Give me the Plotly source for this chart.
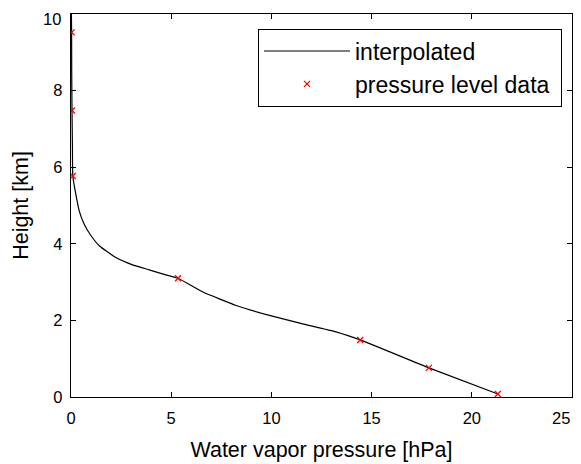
import plotly.graph_objects as go

# %% data
# pressure level data (markers)
level_pressure = [21.3, 17.86, 14.43, 5.34, 0.09, 0.05, 0.03]   # hPa
level_height = [0.08, 0.76, 1.49, 3.10, 5.77, 7.48, 9.52]       # km

# interpolated profile (line)
interp_pressure = [21.3, 17.86, 14.43, 13.22, 11.56, 9.90, 8.24, 6.58, 5.34,
                   4.73, 3.90, 3.07, 2.24, 1.41, 1.00, 0.66, 0.41, 0.21,
                   0.09, 0.07, 0.05, 0.035, 0.03, 0.02]
interp_height = [0.08, 0.76, 1.49, 1.70, 1.91, 2.13, 2.39, 2.74, 3.10,
                 3.19, 3.32, 3.45, 3.64, 3.95, 4.21, 4.51, 4.86, 5.38,
                 5.77, 6.60, 7.48, 8.50, 9.52, 10.0]

x_ticks = [0, 5, 10, 15, 20, 25]
x_tick_labels = ["0", "5", "10", "15", "20", "25"]
y_ticks = [0, 2, 4, 6, 8, 10]
y_tick_labels = ["0", "2", "4", "6", "8", "10"]

font_family = "Liberation Sans, Arial, Helvetica, sans-serif"
tick_size = 16.5

# %% figure
fig = go.Figure()

fig.add_trace(go.Scatter(x=interp_pressure, y=interp_height, mode="lines",
                         name="interpolated",
                         line=dict(color="black", width=1.2, shape="spline", smoothing=0.4)))

fig.add_trace(go.Scatter(x=level_pressure, y=level_height, mode="markers",
                         name="pressure level data\u00a0",
                         marker=dict(symbol="x-thin", size=6, color="red",
                                     line=dict(color="red", width=1.3))))

axis_common = dict(showgrid=False, zeroline=False, showline=True, automargin=False,
                   linecolor="black", linewidth=1.3, mirror="ticks",
                   ticks="inside", ticklen=5, tickwidth=1, tickcolor="black",
                   ticklabeloverflow="allow",
                   tickfont=dict(size=tick_size, color="black", family=font_family))

# the end labels would run past the page edge, so they are drawn as annotations
fig.update_xaxes(range=[0, 25], tickvals=x_ticks, ticktext=x_tick_labels[:-1] + [""],
                 ticklabelstandoff=6,
                 title=dict(text="Water vapor pressure [hPa]", standoff=15,
                            font=dict(size=21.5, color="black", family=font_family)),
                 **axis_common)
fig.update_yaxes(range=[0, 10], tickvals=y_ticks, ticktext=y_tick_labels[:-1] + [""],
                 ticklabelstandoff=4,
                 title=dict(text="Height [km]", standoff=18,
                            font=dict(size=21.5, color="black", family=font_family)),
                 **axis_common)

fig.add_annotation(x=x_ticks[-1], xref="x", y=0, yref="paper", text=x_tick_labels[-1],
                   showarrow=False, xanchor="right", yanchor="middle", yshift=-21,
                   font=dict(size=tick_size, color="black", family=font_family))
fig.add_annotation(x=0, xref="paper", y=y_ticks[-1], yref="y", text=y_tick_labels[-1],
                   showarrow=False, xanchor="right", yanchor="top", xshift=-8, yshift=6,
                   font=dict(size=tick_size, color="black", family=font_family))

# the page body has an 8px margin, so the figure is sized to fit the window
fig.update_layout(
    width=573, height=456,
    margin=dict(l=63, r=9, t=6, b=67),
    plot_bgcolor="white", paper_bgcolor="white",
    font=dict(family=font_family, color="black"),
    legend=dict(x=0.98, y=0.962, xanchor="right", yanchor="top",
                bgcolor="white", bordercolor="black", borderwidth=1,
                font=dict(size=23, color="black", family=font_family),
                itemwidth=86, tracegroupgap=0),
)

fig.write_html("out.html")
